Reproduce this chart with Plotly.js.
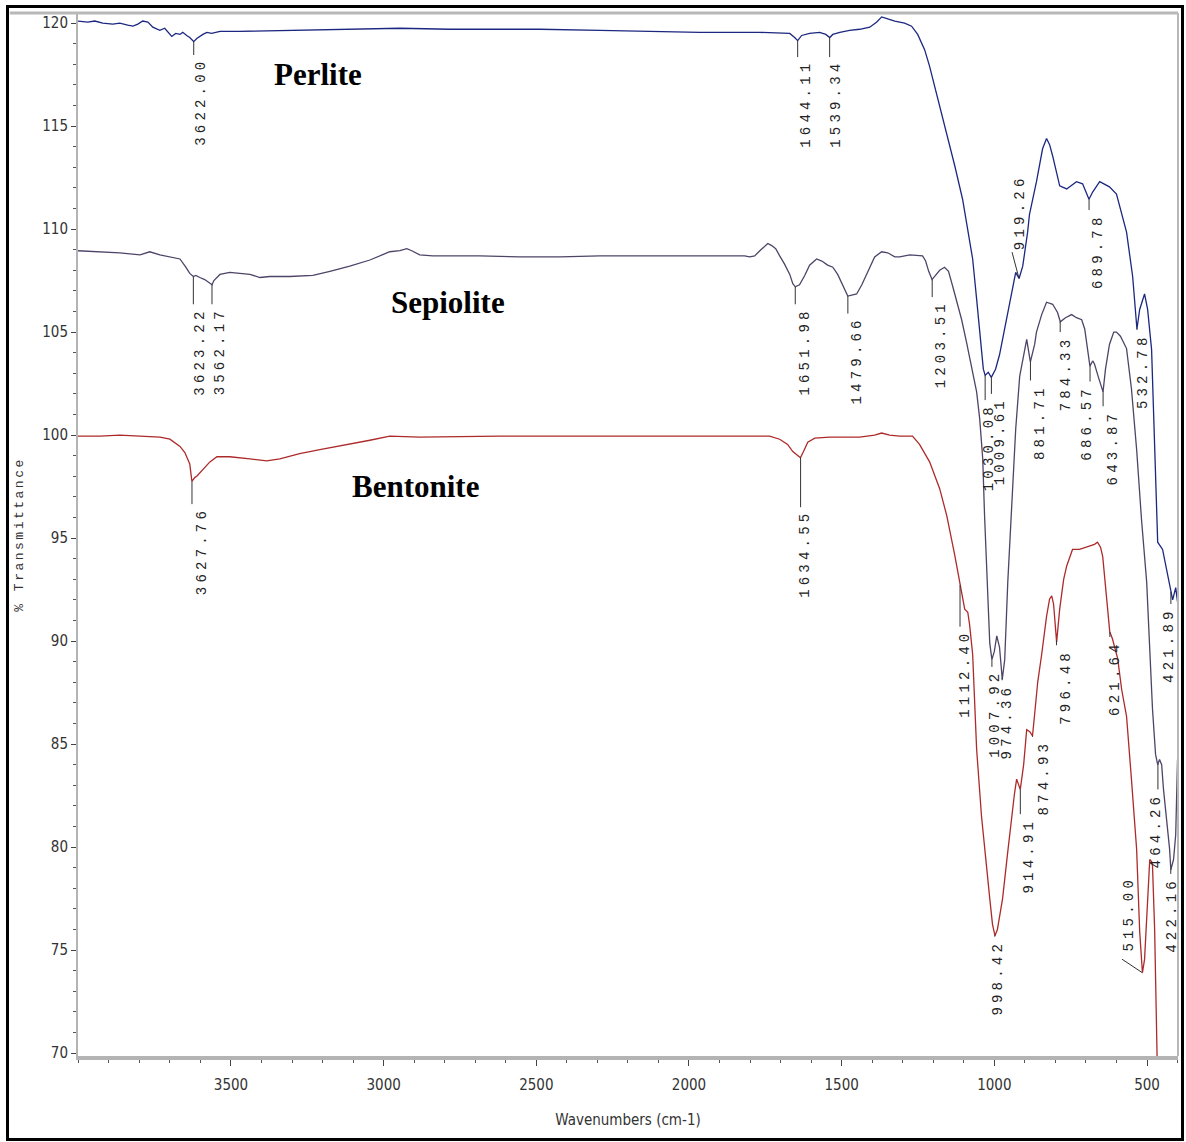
<!DOCTYPE html>
<html><head><meta charset="utf-8">
<script src="https://cdn.plot.ly/plotly-3.0.1.min.js"></script>
<style>
html,body{margin:0;padding:0;background:#fff;}
#wrap{position:relative;width:1186px;height:1142px;overflow:hidden;}
#chart{position:absolute;left:0;top:0;width:1186px;height:1142px;}
#frame{position:absolute;left:6px;top:5px;width:1172px;height:1130px;border:3px solid #000;pointer-events:none;}
</style></head><body>
<div id="wrap"><div id="chart"></div><div id="frame"></div></div>
<script>
// ---------- DATA ----------
const perliteWn = [4001,3969,3946,3920,3887,3864,3838,3821,3805,3789,3772,3756,3733,3717,3694,3681,3667,3658,3645,3635,3622,3612,3592,3579,3563,3536,3471,3275,3111,2947,2783,2620,2489,2292,2129,1965,1768,1670,1654,1644,1631,1605,1572,1552,1539,1529,1506,1474,1441,1408,1385,1369,1349,1326,1294,1271,1251,1228,1212,1185,1156,1130,1104,1087,1071,1058,1045,1036,1030,1020,1010,996,983,966,950,940,930,919,907,891,885,862,842,829,819,809,786,763,731,711,690,678,655,623,600,567,547,533,524,508,498,485,475,465,449,439,422,416,406,400];
const perliteT  = [120.1,120.05,120.1,120.0,119.95,120.0,119.9,119.85,119.95,120.1,120.05,119.8,119.65,119.75,119.35,119.5,119.45,119.55,119.4,119.3,119.1,119.25,119.45,119.55,119.5,119.6,119.6,119.65,119.7,119.75,119.7,119.7,119.7,119.65,119.6,119.55,119.55,119.5,119.3,119.15,119.4,119.5,119.55,119.45,119.3,119.45,119.55,119.65,119.7,119.8,120.05,120.3,120.2,120.1,120.0,119.85,119.45,118.7,117.9,116.3,114.7,113.1,111.45,110.0,108.55,106.6,104.65,103.2,102.9,103.05,102.8,103.2,103.9,105.15,106.35,107.1,107.9,107.6,108.2,109.85,110.7,112.3,113.9,114.4,114.1,113.55,112.1,111.95,112.3,112.2,111.45,111.8,112.3,112.05,111.7,109.85,107.7,105.15,106.1,106.85,106.1,104.15,99.3,94.8,94.45,93.75,92.4,92.0,92.6,91.9];

const sepioliteWn = [4001,3929,3864,3798,3766,3733,3700,3667,3648,3635,3623,3615,3602,3586,3562,3556,3536,3504,3471,3438,3405,3373,3307,3232,3176,3111,3045,2980,2947,2924,2908,2882,2839,2685,2554,2423,2292,2129,1965,1818,1801,1785,1768,1742,1729,1716,1703,1687,1670,1660,1652,1638,1621,1605,1582,1565,1546,1529,1513,1497,1480,1467,1451,1434,1415,1392,1369,1349,1326,1310,1277,1251,1235,1225,1215,1204,1192,1179,1163,1150,1136,1120,1107,1091,1074,1058,1048,1038,1032,1022,1015,1008,1000,992,983,974,966,956,946,940,930,917,904,894,888,882,868,862,845,829,809,793,784,767,747,731,714,704,695,687,678,672,659,644,636,623,609,600,587,567,551,534,518,501,491,482,472,465,459,452,446,436,426,422,413,406,403,400];
const sepioliteT  = [108.95,108.9,108.85,108.75,108.9,108.75,108.65,108.55,108.15,107.85,107.7,107.75,107.65,107.55,107.3,107.5,107.8,107.9,107.85,107.8,107.65,107.7,107.7,107.75,107.95,108.2,108.5,108.9,108.95,109.05,108.95,108.75,108.7,108.7,108.65,108.65,108.7,108.7,108.7,108.7,108.65,108.7,108.95,109.3,109.2,109.05,108.7,108.3,107.8,107.35,107.2,107.3,107.75,108.25,108.55,108.45,108.25,108.15,107.8,107.3,106.75,106.8,106.85,107.3,107.95,108.65,108.9,108.85,108.65,108.65,108.75,108.7,108.7,108.45,107.95,107.55,107.75,108.0,108.15,107.95,107.2,106.35,105.6,104.5,103.3,102.1,100.8,98.85,96.1,92.0,89.9,89.1,89.5,90.25,89.7,88.15,89.1,92.85,95.9,97.7,100.3,102.85,103.9,104.65,104.1,103.55,104.4,105.0,105.85,106.45,106.35,105.95,105.5,105.7,105.85,105.7,105.6,105.15,104.2,103.35,103.6,103.45,102.8,102.1,103.2,104.4,105.0,105.0,104.8,104.2,102.25,99.3,95.9,92.85,89.6,86.7,84.5,84.0,84.25,84.0,82.8,81.35,79.9,78.9,79.4,80.6,82.3,84.25];

const bentoniteWn = [4001,3929,3864,3798,3733,3700,3667,3651,3635,3628,3618,3612,3592,3569,3546,3504,3438,3383,3340,3275,3209,3111,3045,2980,2882,2620,2292,1965,1736,1703,1677,1660,1635,1625,1611,1588,1539,1441,1392,1369,1343,1310,1268,1245,1212,1179,1156,1130,1114,1104,1097,1087,1081,1071,1058,1042,1029,1015,1006,998,990,973,957,944,934,927,915,904,894,884,875,868,858,845,829,819,812,806,796,786,773,763,744,721,701,688,672,662,652,645,636,629,622,613,596,583,567,551,534,524,515,508,501,491,485,482,475,469,465,462];
const bentoniteT  = [99.95,99.95,100.0,99.95,99.9,99.8,99.45,99.15,98.6,97.75,97.95,98.0,98.35,98.7,98.95,98.95,98.85,98.75,98.85,99.1,99.3,99.55,99.75,99.95,99.9,99.95,99.95,99.95,99.95,99.8,99.55,99.2,98.9,99.2,99.65,99.85,99.9,99.9,100.0,100.1,100.0,99.95,99.95,99.55,98.7,97.4,96.1,94.2,92.85,92.0,91.55,91.4,90.8,89.35,84.75,81.5,79.4,77.5,76.25,75.7,76.0,77.5,79.65,81.5,82.6,83.3,82.8,84.0,85.7,85.6,85.4,86.45,88.0,89.35,91.2,92.05,92.2,91.8,89.95,91.55,93.0,93.65,94.45,94.45,94.55,94.6,94.7,94.8,94.55,94.1,92.75,91.55,90.45,90.1,89.15,87.65,86.35,83.3,79.9,75.9,73.9,74.55,76.65,79.4,79.3,79.1,76.0,70.5,69.2,66.0];

const perlitePeaks   = [3622.00,1644.11,1539.34,1030.08,1009.61,919.26,689.78,532.78,421.89];
const sepiolitePeaks = [3623.22,3562.17,1651.98,1479.66,1203.51,1007.92,974.36,881.71,784.33,686.57,643.87,464.26,422.16];
const bentonitePeaks = [3627.76,1634.55,1112.40,998.42,914.91,874.93,796.48,621.64,515.00];

const sampleNames = ["Perlite","Sepiolite","Bentonite"];
const xTickVals = [3500,3000,2500,2000,1500,1000,500];
const yTickVals = [70,75,80,85,90,95,100,105,110,115,120];

// ---------- LABEL PLACEMENT (layout only) ----------
const perlitePlace = [
  {top:118.35,dx:7},{top:118.25,dx:8},{top:118.25,dx:6},{top:101.6,dx:4},{top:101.9,dx:9},
  {bottom:108.93,dx:1,from:[942,108.88]},{top:110.83,dx:9},{top:105.0,dx:6},{top:91.7,dx:-2}];
const sepiolitePlace = [
  {top:106.25,dx:7},{top:106.25,dx:8},{top:106.25,dx:10},{top:105.8,dx:9},{top:106.6,dx:9},
  {top:88.65,dx:3},{top:88.0,dx:5},{top:102.55,dx:9},{top:104.9,dx:6},{top:102.5,dx:-3},
  {top:101.3,dx:10},{top:82.7,dx:-1},{top:78.6,dx:1}];
const bentonitePlace = [
  {top:96.55,dx:10},{top:96.4,dx:5},{top:90.6,dx:5},{top:75.55,dx:3},{top:81.5,dx:9},
  {top:85.25,dx:11},{top:89.7,dx:10},{top:90.1,dx:5},{bottom:74.9,dx:-13,from:[582,74.56]}];
const namePlace = [[3215,117.5],[2789,106.45],[2897,97.5]];

const colors = {perlite:'#1c2780', sepiolite:'#4e4468', bentonite:'#ad2a2a'};
const narrow = 'Liberation Sans Narrow, DejaVu Sans Condensed, Arial Narrow, sans-serif';
const mono = 'Liberation Mono, DejaVu Sans Mono, monospace';

function interp(xs, ys, x){
  for (let i=0;i<xs.length-1;i++){
    const a=xs[i], b=xs[i+1];
    if ((x<=a && x>=b) || (x>=a && x<=b)){
      const t = (a===b)?0:(x-a)/(b-a);
      return ys[i]+t*(ys[i+1]-ys[i]);
    }
  }
  return ys[ys.length-1];
}

const annotations = [];
const shapes = [];
function addPeaks(peaks, place, xs, ys){
  peaks.forEach((p,i)=>{
    const pl = place[i];
    const tip = interp(xs, ys, p);
    const txt = '<span style="letter-spacing:4.2px">'+p.toFixed(2)+'</span>';
    const base = {x:p, xref:'x', yref:'y', text:txt, textangle:-90, showarrow:false,
      xanchor:'center', xshift:pl.dx, borderpad:0,
      font:{family:mono, size:14, color:'#222'}};
    if (pl.top !== undefined){
      annotations.push(Object.assign(base,{y:pl.top, yanchor:'top'}));
      shapes.push({type:'line', xref:'x', yref:'y', x0:p, x1:p, y0:tip, y1:pl.top+0.1,
        line:{color:'#333', width:1}});
    } else {
      annotations.push(Object.assign(base,{y:pl.bottom, yanchor:'bottom'}));
      shapes.push({type:'line', xref:'x', yref:'y', x0:pl.from[0], y0:pl.from[1], x1:p, y1:tip,
        line:{color:'#333', width:1}});
    }
  });
}
addPeaks(perlitePeaks, perlitePlace, perliteWn, perliteT);
addPeaks(sepiolitePeaks, sepiolitePlace, sepioliteWn, sepioliteT);
addPeaks(bentonitePeaks, bentonitePlace, bentoniteWn, bentoniteT);

sampleNames.forEach((n,i)=>{
  annotations.push({x:namePlace[i][0], y:namePlace[i][1], xref:'x', yref:'y', text:n,
    showarrow:false, font:{family:'Liberation Serif, Times New Roman, serif', size:31, color:'#000', weight:'bold'}});
});

shapes.push({type:'line', xref:'paper', yref:'paper', x0:-0.062, x1:1, y0:1, y1:1, line:{color:'#b8b8b8', width:3}});
shapes.push({type:'line', xref:'paper', yref:'paper', x0:1, x1:1, y0:0, y1:1, line:{color:'#b8b8b8', width:2}});

const traces = [
  {x:perliteWn, y:perliteT, name:sampleNames[0], type:'scatter', mode:'lines', line:{color:colors.perlite, width:1.3}},
  {x:sepioliteWn, y:sepioliteT, name:sampleNames[1], type:'scatter', mode:'lines', line:{color:colors.sepiolite, width:1.3}},
  {x:bentoniteWn, y:bentoniteT, name:sampleNames[2], type:'scatter', mode:'lines', line:{color:colors.bentonite, width:1.3}}
];

const layout = {
  width:1186, height:1142,
  margin:{l:78, r:8, t:13, b:86},
  paper_bgcolor:'#ffffff', plot_bgcolor:'#ffffff',
  showlegend:false,
  xaxis:{range:[4001,398.5], tickmode:'array', tickvals:xTickVals, ticktext:xTickVals.map(String),
    ticks:'outside', ticklen:6, tickcolor:'#444', tickwidth:1,
    minor:{dtick:100, tick0:0, ticks:'outside', ticklen:3, tickcolor:'#555', showgrid:false},
    showline:true, linecolor:'#b4b4b4', linewidth:4, showgrid:false, zeroline:false,
    tickfont:{family:narrow, size:15, color:'#333'}, ticklabelstandoff:6,
    title:{text:'Wavenumbers (cm-1)', font:{family:narrow, size:15, color:'#333'}, standoff:22}},
  yaxis:{range:[69.86,120.49], tickmode:'array', tickvals:yTickVals, ticktext:yTickVals.map(String),
    ticks:'outside', ticklen:5, tickcolor:'#444', tickwidth:1,
    minor:{dtick:1, tick0:0, ticks:'outside', ticklen:3, tickcolor:'#555', showgrid:false},
    showline:true, linecolor:'#b4b4b4', linewidth:2, showgrid:false, zeroline:false,
    tickfont:{family:narrow, size:15, color:'#333'},
    title:{text:'<span style="letter-spacing:2.5px">% Transmittance</span>', font:{family:mono, size:13, color:'#333'}, standoff:16}},
  annotations:annotations,
  shapes:shapes
};

Plotly.newPlot('chart', traces, layout, {staticPlot:true, displayModeBar:false});
</script>
</body></html>
